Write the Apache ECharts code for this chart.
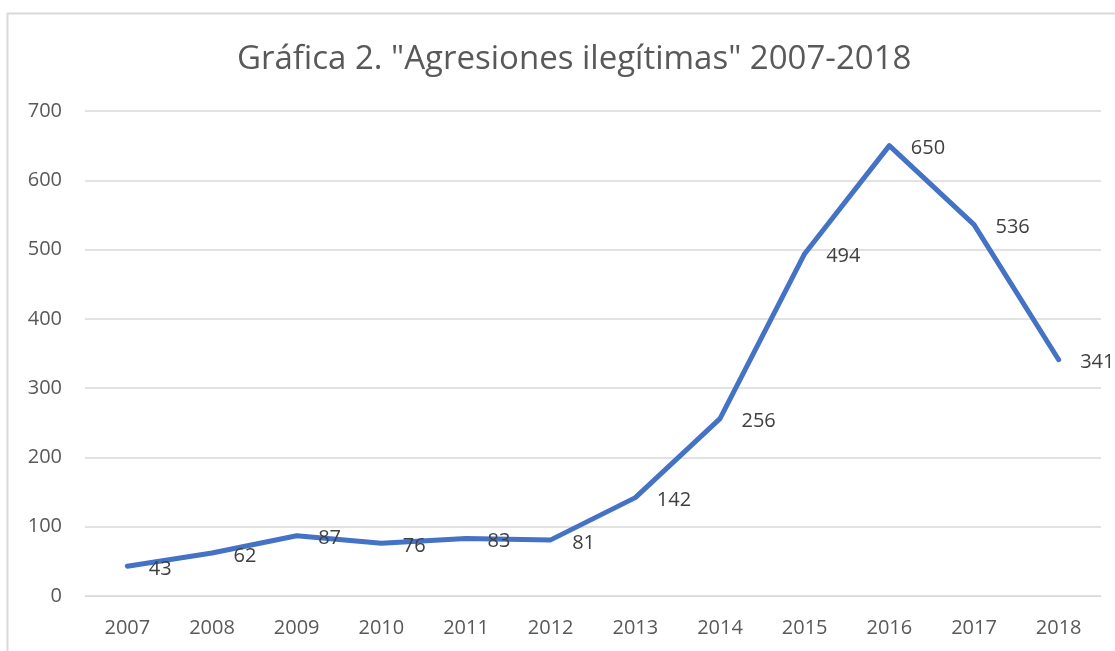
<!DOCTYPE html>
<html><head><meta charset="utf-8">
<script src="https://cdn.jsdelivr.net/npm/echarts@6/dist/echarts.min.js"></script>
<style>html,body{margin:0;padding:0;background:#fff}#c{width:1115px;height:651px}</style>
</head><body><div id="c"></div>
<script>
const titleText = 'Gráfica 2. "Agresiones ilegítimas" 2007-2018';
const years = ['2007','2008','2009','2010','2011','2012','2013','2014','2015','2016','2017','2018'];
const values = [43, 62, 87, 76, 83, 81, 142, 256, 494, 650, 536, 341];
const yTicks = [0, 100, 200, 300, 400, 500, 600, 700];

const chart = echarts.init(document.getElementById('c'), null, {renderer: 'canvas'});
const font = '"Open Sans", "Noto Sans", sans-serif';
chart.setOption({
  animation: false,
  backgroundColor: '#fff',
  graphic: [{
    type: 'rect', left: 5, top: 11, shape: {width: 1200, height: 700},
    style: {fill: 'none', stroke: '#d9d9d9', lineWidth: 2}, z: -1
  }],
  title: {
    text: titleText, left: 232, top: 38,
    textStyle: {fontFamily: font, fontSize: 33, fontWeight: 'normal', color: '#595959'}
  },
  grid: {left: 85, right: 14, top: 111, bottom: 55, containLabel: false},
  xAxis: {
    type: 'category', data: years, boundaryGap: true,
    axisLine: {show: true, lineStyle: {color: '#d9d9d9', width: 1}},
    axisTick: {show: false},
    axisLabel: {fontFamily: font, fontSize: 20, color: '#595959', margin: 22}
  },
  yAxis: {
    type: 'value', min: yTicks[0], max: yTicks[yTicks.length - 1], interval: 100,
    axisLine: {show: false}, axisTick: {show: false},
    splitLine: {lineStyle: {color: '#d9d9d9', width: 1.5}},
    axisLabel: {fontFamily: font, fontSize: 20, color: '#595959', margin: 23}
  },
  series: [{
    type: 'line', data: values, symbol: 'circle', symbolSize: 1, showSymbol: true,
    itemStyle: {color: 'rgba(68,114,196,0)'},
    lineStyle: {color: '#4472c4', width: 5, cap: 'round', join: 'round'},
    label: {
      show: true, position: 'right', distance: 21, offset: [0, 3],
      fontFamily: font, fontSize: 20, color: '#404040'
    }
  }]
});
</script></body></html>
